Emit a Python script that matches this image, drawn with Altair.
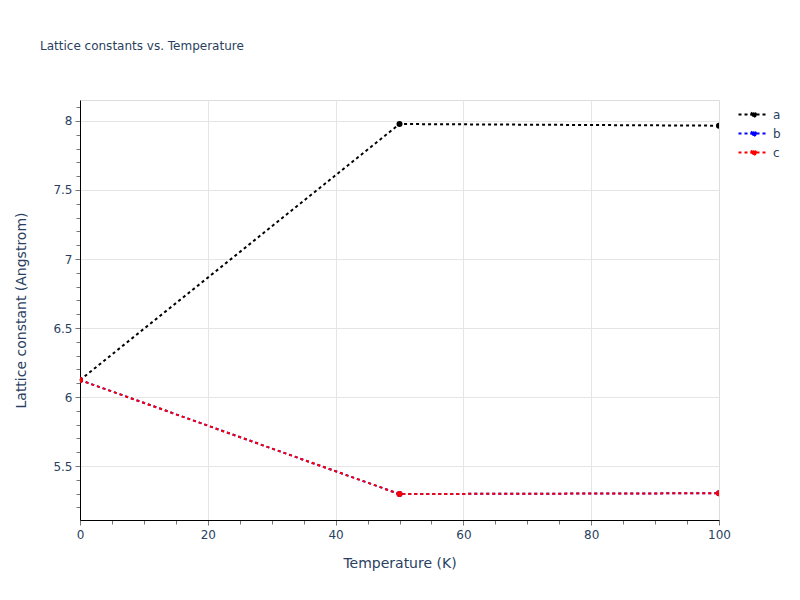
import altair as alt
import pandas as pd

# ---- data ----
temps = [0, 50, 100]
a_vals = [6.123, 7.978, 7.966]
b_vals = [6.123, 5.297, 5.303]
c_vals = [6.123, 5.297, 5.303]
series_names = ["a", "b", "c"]
series_colors = ["black", "blue", "red"]

x_ticks = list(range(0, 101, 5))
y_ticks = [round(5.2 + 0.1 * i, 1) for i in range(30)]

rows = []
for name, vals in zip(series_names, [a_vals, b_vals, c_vals]):
    for t, v in zip(temps, vals):
        rows.append({"T": t, "L": v, "series": name})
df = pd.DataFrame(rows)

FONT = "DejaVu Sans"
TXT = "#2a3f5f"
GRID = "#e5e5e5"

MAJ_Y = "abs(datum.value*2-round(datum.value*2))<0.001"
MAJ_X = "datum.value % 20 == 0"
GRID_X = "datum.value % 20 == 0 && datum.value > 0 && datum.value < 100"

x_axis = alt.Axis(
    values=x_ticks,
    labelExpr=f"{MAJ_X} ? format(datum.value, 'd') : ''",
    labelOverlap=False, labelFlush=False,
    tickSize={"condition": {"test": MAJ_X, "value": 5}, "value": 4},
    gridOpacity={"condition": {"test": GRID_X, "value": 1}, "value": 0},
    gridColor=GRID, gridWidth=1,
    domainColor="black", domainWidth=1,
    tickColor="#777", tickWidth=1,
    labelColor=TXT, labelFont=FONT, labelFontSize=12, labelPadding=4,
    title="Temperature (K)", titleFont=FONT, titleFontSize=14,
    titleColor=TXT, titleFontWeight="normal", titlePadding=16,
)
y_axis = alt.Axis(
    values=y_ticks,
    labelExpr=f"{MAJ_Y} ? format(datum.value, '.2~f') : ''",
    labelOverlap=False, labelFlush=False,
    tickSize={"condition": {"test": MAJ_Y, "value": 5}, "value": 4},
    gridOpacity={"condition": {"test": MAJ_Y, "value": 1}, "value": 0},
    gridColor=GRID, gridWidth=1,
    domainColor="black", domainWidth=1,
    tickColor="#777", tickWidth=1,
    labelColor=TXT, labelFont=FONT, labelFontSize=12, labelPadding=3,
    title="Lattice constant (Angstrom)", titleFont=FONT, titleFontSize=14,
    titleColor=TXT, titleFontWeight="normal", titlePadding=24,
)


def circ(r):
    k = round(0.5523 * r, 4)
    return (f"M{r},0C{r},{k},{k},{r},0,{r}C{-k},{r},{-r},{k},{-r},0"
            f"C{-r},{-k},{-k},{-r},0,{-r}C{k},{-r},{r},{-k},{r},0Z")


# legend glyph: dotted line segment with a solid dot in the middle
SYM = "M-1,0H1" + circ(0.15) + circ(0.07)
legend_kw = dict(
    title=None, orient="none", legendX=657, legendY=5,
    symbolType=SYM, symbolSize=900, symbolStrokeWidth=2.2,
    symbolDash=[3, 3, 3, 3, 3, 3, 3, 3, 3, 3, 80, 0],
    clipHeight=19, labelFont=FONT, labelFontSize=12, labelColor=TXT,
    labelOffset=3, rowPadding=0,
)

x_enc = alt.X("T:Q", scale=alt.Scale(domain=[0, 100], nice=False, zero=False), axis=x_axis)
y_enc = alt.Y("L:Q", scale=alt.Scale(domain=[5.109, 8.152], nice=False, zero=False), axis=y_axis)

lines = alt.Chart(df).mark_line(strokeWidth=2, strokeDash=[3, 3]).encode(
    x=x_enc, y=y_enc,
    stroke=alt.Stroke("series:N", scale=alt.Scale(domain=series_names, range=series_colors),
                      legend=alt.Legend(**legend_kw)),
    order=alt.Order("T:Q"),
)
points = alt.Chart(df).mark_point(filled=True, size=36, opacity=1, clip=True).encode(
    x=x_enc, y=y_enc,
    fill=alt.Fill("series:N", scale=alt.Scale(domain=series_names, range=series_colors),
                  legend=alt.Legend(**legend_kw)),
)

chart = alt.layer(lines, points).properties(
    width=639, height=420,
    title=alt.TitleParams("Lattice constants vs. Temperature", anchor="start", frame="group",
                          dx=-40, offset=42, baseline="middle", font=FONT, fontSize=12,
                          color=TXT, fontWeight="normal"),
    autosize=alt.AutoSizeParams(type="none"),
    padding={"left": 72, "top": 92, "right": 73, "bottom": 72},
).configure_view(stroke=None).configure(background="white")

chart.save("out.html", embed_options={"renderer": "svg", "actions": False})
